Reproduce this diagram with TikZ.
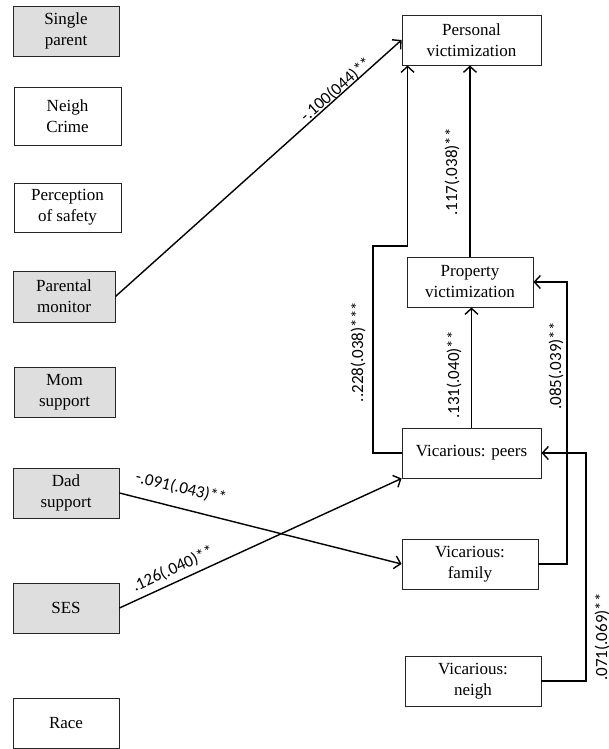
\documentclass[tikz,border=0pt]{standalone}
\usepackage{fontspec}
\setmainfont{Liberation Serif}
\newfontfamily\labfont{Carlito}
\usetikzlibrary{arrows.meta,calc}
\definecolor{boxgray}{RGB}{222,222,222}
\begin{document}
\begin{tikzpicture}[x=1pt,y=-1pt,
  box/.style={draw=black!85, line width=0.9pt, align=center, inner sep=0pt,
    font=\fontsize{17}{21}\selectfont},
  gbox/.style={box, fill=boxgray},
  arr/.style={line width=1.4pt, -{Straight Barb[length=6pt,width=13pt,line width=1.4pt]}},
  lab/.style={font=\labfont\fontsize{17}{20}\selectfont, inner sep=0pt}]
\useasboundingbox (0,0) rectangle (608,749);
% left column
\node[gbox, minimum width=106, minimum height=50] (sp) at (66,31) {Single\\parent};
\node[box, minimum width=107, minimum height=58] (nc) at (67.5,116.5) {Neigh\\Crime};
\node[box, minimum width=107, minimum height=49] (ps) at (67.5,207.5) {Perception\\of safety};
\node[gbox, minimum width=102, minimum height=51] (pm) at (64,296.5) {Parental\\monitor};
\node[gbox, minimum width=101, minimum height=50] (ms) at (64.5,392) {Mom\\support};
\node[gbox, minimum width=106, minimum height=50] (ds) at (66,493) {Dad\\support};
\node[gbox, minimum width=106, minimum height=50] (ses) at (66,608) {SES};
\node[box, minimum width=106, minimum height=50] (race) at (66,723) {Race};
% right column
\node[box, minimum width=139, minimum height=50] (pv) at (471.5,40) {Personal\\victimization};
\node[box, minimum width=126, minimum height=50] (prv) at (470,282) {Property\\victimization};
\node[box, minimum width=139, minimum height=50] (vp) at (471.5,453) {Vicarious: peers};
\node[box, minimum width=136, minimum height=50] (vf) at (470,564) {Vicarious:\\family};
\node[box, minimum width=136, minimum height=50] (vn) at (473,681) {Vicarious:\\neigh};
% bend points
\coordinate (c1) at (373,246);
\coordinate (c2) at (567,282);
\coordinate (c3) at (586,453);
% connectors
\draw[arr] (pm.east) -- (pv.west);
\draw[arr] (vp.west) -| (c1) -| ([xshift=6pt]pv.south west);
\draw[arr] (prv.north) -- (prv.north |- pv.south);
\draw[arr] (vp.north) -- (vp.north |- prv.south);
\draw[arr] (vf.east) -| (c2) -- (prv.east);
\draw[arr] (vn.east) -| (c3) -- (vp.east);
\draw[arr] (ds.east) -- (vf.west);
\draw[arr] (ses.east) -- (vp.south west);
% labels
\node[lab, rotate=41.2] at (336,90) {-.100(044)**};
\node[lab, rotate=90] at (358,352) {..228(.038)***};
\node[lab, rotate=90] at (452,172) {.117(.038)**};
\node[lab, rotate=90] at (454,375) {.131(.040)**};
\node[lab, rotate=90] at (556,366) {.085(.039)**};
\node[lab, rotate=90] at (602,637) {.071(.069)**};
\node[lab, rotate=-13.9] at (181,488) {-.091(.043)**};
\node[lab, rotate=24.7] at (173,569) {.126(.040)**};
\end{tikzpicture}
\end{document}
